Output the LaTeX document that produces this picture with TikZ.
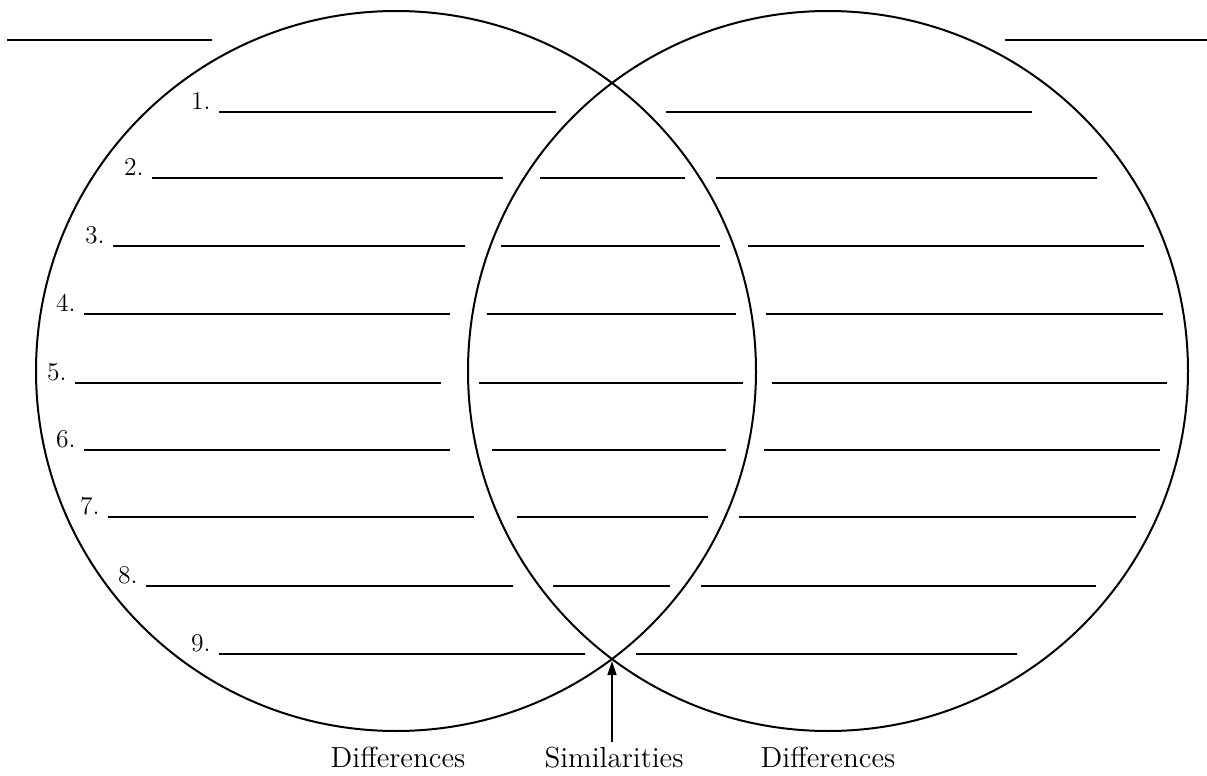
\documentclass[tikz,border=0pt]{standalone}
\usetikzlibrary{arrows.meta}
\begin{document}
\begin{tikzpicture}[x=0.5pt,y=-0.5pt,
  circ/.style={line width=1pt},
  blank/.style={line width=0.75pt},
  num/.style={anchor=base east, inner sep=0pt, font=\fontsize{12.8}{15}\selectfont},
  lab/.style={anchor=base, inner sep=0pt, font=\fontsize{14.5}{17}\selectfont}]
\useasboundingbox (0,0) rectangle (1207,776);
% circles
\draw[circ] (396,371) circle[radius=360];
\draw[circ] (828,371) circle[radius=360];
% title blanks
\draw[blank] (7,40) -- (212,40);
\draw[blank] (1005,40) -- (1207,40);
% numbered rows: n / y / left start / left end / mid start / mid end / right start / right end
\foreach \n/\y/\a/\b/\c/\d/\e/\f in {
  1/112/219/556/0/0/666/1032,
  2/178/152/503/540/685/716/1097,
  3/246/113/465/501/720/748/1144,
  4/314/84/450/487/736/766/1163,
  5/383/75/441/479/743/772/1167,
  6/450/84/450/492/726/764/1160,
  7/517/108/474/517/708/739/1136,
  8/586/146/513/553/670/701/1096,
  9/654/219/585/0/0/636/1017}{
  \node[num] (n\n) at (\a-8,\y-3) {\n.};
  \draw[blank] (\a,\y) -- (\b,\y);
  \ifnum\c>0 \draw[blank] (\c,\y) -- (\d,\y);\fi
  \draw[blank] (\e,\y) -- (\f,\y);
}
% bottom labels
\node[lab] (dl) at (398,767) {Differences};
\node[lab] (sim) at (614,767) {Similarities};
\node[lab] (dr) at (828,767) {Differences};
\coordinate (ix) at (612,661);
\coordinate (foot) at (612,742);
\draw[line width=0.75pt,-{Triangle[length=7pt,width=4.5pt]}] (foot) -- (ix);
\end{tikzpicture}
\end{document}
